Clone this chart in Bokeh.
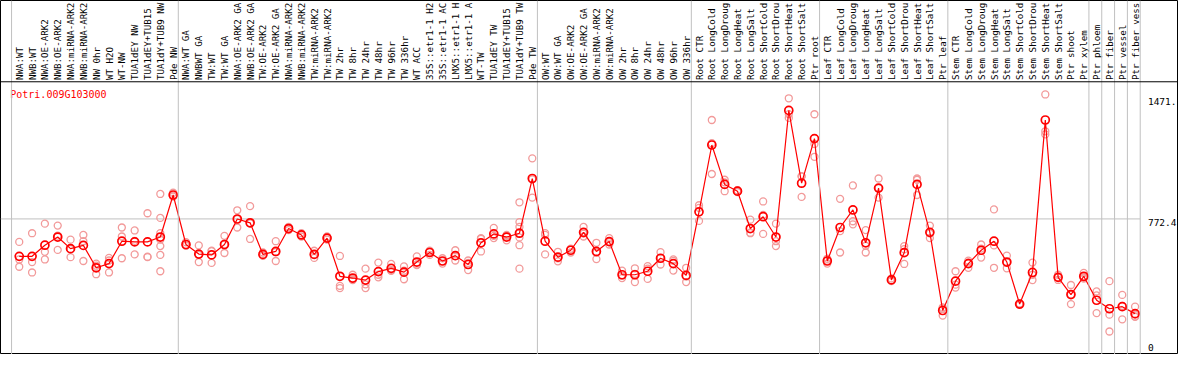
import math
from bokeh.plotting import figure
from bokeh.models import ColumnDataSource, Range1d, Span
from bokeh.core.properties import value
from bokeh.embed import file_html
from bokeh.resources import INLINE

gene = "Potri.009G103000"

samples = [
    "NWA:WT", "NWB:WT", "NWA:OE-ARK2", "NWB:OE-ARK2", "NWA:miRNA-ARK2", "NWB:miRNA-ARK2",
    "NW 0hr", "WT H2O", "WT-NW", "TUA1dEY NW", "TUA1dEY+TUB15 NW", "TUA1dY+TUB9 NW", "Pde NW",
    "NWA:WT GA", "NWBWT GA", "TW:WT", "TW:WT GA", "NWA:OE-ARK2 GA", "NWB:OE-ARK2 GA",
    "TW:OE-ARK2", "TW:OE-ARK2 GA", "NWA:miRNA-ARK2", "NWB:miRNA-ARK2", "TW:miRNA-ARK2",
    "TW:miRNA-ARK2", "TW 2hr", "TW 8hr", "TW 24hr", "TW 48hr", "TW 96hr", "TW 336hr", "WT ACC",
    "35S::etr1-1 H2O", "35S::etr1-1 ACC", "LMX5::etr1-1 H2O", "LMX5::etr1-1 ACC", "WT-TW",
    "TUA1dEY TW", "TUA1dEY+TUB15 TW", "TUA1dY+TUB9 TW", "Pde TW",
    "OW:WT", "OW:WT GA", "OW:OE-ARK2", "OW:OE-ARK2 GA", "OW:miRNA-ARK2", "OW:miRNA-ARK2",
    "OW 2hr", "OW 8hr", "OW 24hr", "OW 48hr", "OW 96hr", "OW 336hr",
    "Root CTR", "Root LongCold", "Root LongDrought", "Root LongHeat", "Root LongSalt",
    "Root ShortCold", "Root ShortDrought", "Root ShortHeat", "Root ShortSalt", "Ptr root",
    "Leaf CTR", "Leaf LongCold", "Leaf LongDrought", "Leaf LongHeat", "Leaf LongSalt",
    "Leaf ShortCold", "Leaf ShortDrought", "Leaf ShortHeat", "Leaf ShortSalt", "Ptr leaf",
    "Stem CTR", "Stem LongCold", "Stem LongDrought", "Stem LongHeat", "Stem LongSalt",
    "Stem ShortCold", "Stem ShortDrought", "Stem ShortHeat", "Stem ShortSalt", "Ptr shoot",
    "Ptr xylem", "Ptr phloem", "Ptr fiber", "Ptr vessel", "Ptr fiber vessel",
]

group_sizes = [13, 28, 12, 10, 10, 11, 1, 1, 1, 1]

means = [
    557, 557, 621, 668, 601, 620, 491, 515, 644, 640, 640, 668, 910,
    625, 570, 565, 625, 772, 750, 568, 585, 717, 680, 568, 662, 442, 432, 420, 469, 488,
    466, 524, 579, 530, 561, 510, 635, 686, 668, 690, 1005,
    644, 552, 592, 695, 585, 642, 451, 451, 471, 546, 515, 447,
    813, 1198, 971, 932, 717, 785, 668, 1397, 978, 1235,
    530, 723, 824, 635, 950, 421, 578, 971, 695, 245,
    414, 515, 592, 644, 524, 282, 464, 1342, 436, 337, 442,
    304, 255, 267, 227,
]

replicates = [
    [640, 539, 497], [690, 524, 464], [745, 583, 539], [734, 594, 676], [653, 552, 598],
    [680, 644, 530], [515, 503, 454], [548, 464, 533], [723, 671, 546], [706, 568, 646],
    [805, 555, 552], [916, 778, 690, 653, 616, 565, 471], [923, 901, 906],
    [638, 620, 618], [620, 524, 566], [589, 519, 587], [675, 576, 624], [822, 723, 771],
    [846, 657, 747], [579, 565, 560], [644, 530, 581], [726, 708, 717], [690, 671, 680],
    [589, 548, 567], [671, 653, 662], [559, 387, 374], [451, 420, 425], [486, 396, 374],
    [521, 436, 451], [513, 473, 478], [499, 425, 474], [557, 506, 510], [589, 565, 583],
    [546, 515, 529], [592, 533, 558], [533, 478, 519], [662, 585, 658], [721, 662, 675],
    [675, 649, 680], [868, 754, 726, 690, 666, 621, 486], [1121, 895, 1000],
    [690, 680, 568], [583, 528, 545], [601, 579, 596], [726, 671, 688], [635, 541, 579],
    [662, 625, 639], [475, 432, 446], [488, 409, 456], [500, 427, 486], [581, 510, 547],
    [539, 475, 531], [491, 409, 441],
    [851, 836, 761], [1342, 1208, 1031], [998, 932, 983], [938, 927, 932], [768, 690, 693],
    [873, 686, 796], [745, 644, 616], [1467, 1354, 1376], [1016, 899, 1019], [1375, 1204, 1130],
    [543, 515, 532], [888, 579, 702], [965, 759, 741], [708, 579, 618], [1005, 895, 950],
    [430, 414, 421], [616, 513, 598], [998, 910, 1005], [734, 662, 689], [263, 216, 256],
    [471, 377, 394], [532, 491, 522], [625, 550, 601], [827, 620, 491], [561, 488, 523],
    [286, 277, 282], [521, 420, 451], [1489, 1277, 1259], [451, 421, 436], [392, 282, 337],
    [462, 429, 435],
    [355, 332, 230], [414, 221, 124], [335, 194, 272], [267, 221, 208, 211],
]

tick_values = [0, 772.4, 1471.0]
tick_labels = ["0", "772.4", "1471."]

# ---- layout (reference pixel scale: 13 px per sample) ----
W, H = 1178, 354
x_lo, x_hi = -1.4615, 90.385
y_lo, y_hi = -8.3, 2030.0
plot_top = 1562.0          # value at the line separating the label band
label_chars = 14           # the label band only shows this many characters

n = len(samples)
xs = list(range(n))

p = figure(width=W, height=H, output_backend="svg", toolbar_location=None,
           x_range=Range1d(x_lo, x_hi), y_range=Range1d(y_lo, y_hi),
           x_axis_location=None, y_axis_location=None, min_border=0,
           background_fill_color="white", border_fill_color="white")
p.xgrid.visible = False
p.ygrid.visible = False
p.outline_line_color = "black"
p.outline_line_width = 1

# group separators
cum = 0
seps = [-0.6]
for g in group_sizes:
    cum += g
    seps.append(cum - 0.6)
for s in seps:
    p.add_layout(Span(location=s, dimension="height", line_color="#c0c0c0", line_width=1))

# separator between label band and plot
p.add_layout(Span(location=plot_top, dimension="width", line_color="black", line_width=1))

# grid line at the middle tick, only over the plotted area
p.segment(x0=[x_lo], x1=[seps[-1]], y0=[tick_values[1]], y1=[tick_values[1]],
          line_color="#c0c0c0", line_width=1)

# replicates
rx, ry = [], []
for i, reps in enumerate(replicates):
    for v in reps:
        rx.append(i)
        ry.append(v)
p.scatter(rx, ry, marker="circle", size=7, fill_color=None,
          line_color="#f29a9a", line_width=1.3)

# mean line and markers
p.line(xs, means, line_color="red", line_width=1.2)
p.scatter(xs, means, marker="circle", size=8, fill_color=None,
          line_color="red", line_width=1.7)

# sample labels (rotated, as many characters as the band shows)
shown = [s[:label_chars].rstrip() for s in samples]
lab_src = ColumnDataSource(dict(x=xs, y=[plot_top + 10] * n, t=shown))
p.text(x="x", y="y", text="t", source=lab_src, angle=math.pi / 2,
       text_align="left", text_baseline="middle",
       text_font=value("DejaVu Sans Mono"), text_font_size="9.2px", text_color="black")

# gene title
p.text(x=[-0.7], y=[1518], text=[gene], text_align="left", text_baseline="top",
       text_font=value("DejaVu Sans Mono"), text_font_size="10px", text_color="red")

# value labels on the right
tk_src = ColumnDataSource(dict(
    x=[n] * len(tick_values), y=tick_values, t=tick_labels,
    b=["bottom", "top", "top"], off=[-2, 0, 0]))
p.text(x="x", y="y", text="t", source=tk_src, text_align="left", text_baseline="b",
       y_offset="off", text_font=value("DejaVu Sans Mono"), text_font_size="9.5px",
       text_color="black")

open("out.html", "w").write(file_html(p, INLINE))
